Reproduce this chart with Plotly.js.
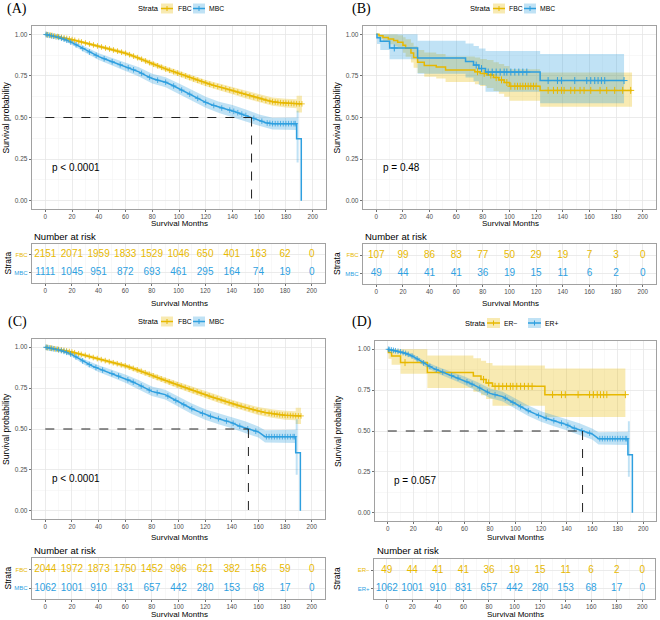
<!DOCTYPE html>
<html><head><meta charset="utf-8">
<script src="https://cdn.plot.ly/plotly-3.0.1.min.js"></script>
<style>html,body{margin:0;padding:0;background:#fff}#chart{width:660px;height:620px}</style>
</head><body><div id="chart"></div>
<script>
// ---------------- DATA ----------------
const YEL = '#E7B800', BLU = '#2E9FDF';
const riskTimes = [0, 20, 40, 60, 80, 100, 120, 140, 160, 180, 200];
const pvals = ['p < 0.0001', 'p = 0.48', 'p < 0.0001', 'p = 0.057'];
const strataAB = ['FBC', 'MBC'];
const strataD = ['ER\u2212', 'ER+'];

// Panel A
const aFbcT = [0,5,10,15,20,25,30,35,40,45,50,55,60,65,70,75,80,85,90,95,100,105,110,115,120,125,130,135,140,145,150,155,160,165,170,175,180,185,190,192];
const aFbcS = [1.000,0.993,0.985,0.977,0.968,0.958,0.948,0.938,0.928,0.918,0.908,0.897,0.886,0.872,0.857,0.840,0.823,0.808,0.792,0.778,0.764,0.750,0.735,0.721,0.707,0.695,0.684,0.673,0.662,0.650,0.638,0.626,0.615,0.603,0.595,0.590,0.586,0.584,0.582,0.582];
const aFbcBandT = [0,10,20,30,40,50,60,70,80,90,100,110,120,130,140,150,160,170,180,188,188,192];
const aFbcLo = [1.000,0.980,0.961,0.939,0.918,0.897,0.874,0.844,0.808,0.776,0.747,0.717,0.688,0.664,0.640,0.614,0.590,0.570,0.560,0.556,0.530,0.530];
const aFbcHi = [1.000,0.990,0.975,0.957,0.938,0.919,0.898,0.870,0.838,0.808,0.781,0.753,0.726,0.704,0.684,0.662,0.640,0.620,0.612,0.610,0.630,0.630];
const aFbcCens = [1,2,4,5,7,9,10,12,14,16,18,20,22,25,27,30,33,36,39,42,45,48,51,54,57,60,63,66,69,72,75,78,81,84,87,90,93,96,99,102,105,108,111,114,117,120,123,126,129,132,135,138,141,144,147,150,153,156,159,162,165,168,170,172,174,176,178,180,182,184,186,188,190,192];
const aMbcT = [0,5,10,15,20,25,30,35,40,45,50,55,60,65,70,75,80,85,90,95,100,105,110,115,120,125,130,135,140,145,150,155,160,165,170,188,188,191.5,191.5];
const aMbcS = [1.000,0.990,0.982,0.968,0.950,0.928,0.906,0.885,0.866,0.850,0.835,0.820,0.805,0.790,0.774,0.753,0.734,0.722,0.712,0.694,0.673,0.652,0.632,0.611,0.591,0.575,0.561,0.551,0.540,0.526,0.512,0.498,0.484,0.468,0.463,0.463,0.372,0.372,0.000];
const aMbcBandT = [0,10,20,30,40,50,60,70,80,90,100,110,120,130,140,150,160,170,188,188,189.5];
const aMbcLo = [1.000,0.974,0.937,0.889,0.846,0.813,0.780,0.746,0.705,0.682,0.641,0.600,0.558,0.527,0.505,0.476,0.450,0.428,0.425,0.230,0.230];
const aMbcHi = [1.000,0.990,0.963,0.923,0.886,0.857,0.830,0.802,0.763,0.742,0.705,0.664,0.624,0.595,0.575,0.548,0.518,0.498,0.500,0.540,0.540];
const aMbcCens = [0.5,1.5,3,4.5,6,8,10,12,14,16,19,23,28,33,38,44,50,56,62,66,72,78,84,90,96,102,108,114,120,126,132,138,141,144,147,150,156,162,166,168,170,172,174,176,178,180,182,184,186,187];
const aRiskFbc = [2151,2071,1959,1833,1529,1046,650,401,163,62,0];
const aRiskMbc = [1111,1045,951,872,693,461,295,164,74,19,0];

// Panel B (step curves)
const bFbcT = [0,2,5,9,13,16,20,22,26,28,31,36,45,52,74,78,83,88,92,96,100,123,192];
const bFbcS = [1.000,0.991,0.981,0.972,0.963,0.953,0.934,0.916,0.888,0.860,0.832,0.813,0.804,0.785,0.775,0.765,0.755,0.740,0.726,0.710,0.688,0.663,0.663];
const bFbcLo = [1.000,0.973,0.955,0.941,0.928,0.914,0.889,0.865,0.831,0.799,0.767,0.745,0.735,0.713,0.700,0.689,0.677,0.660,0.643,0.625,0.600,0.565,0.565];
const bFbcHi = [1.000,1.000,1.000,1.000,0.999,0.994,0.982,0.970,0.950,0.928,0.905,0.890,0.882,0.867,0.860,0.852,0.845,0.832,0.822,0.810,0.790,0.770,0.770];
const bFbcCens = [76,81,86,90,94,98,101,104,106,108,110,112,114,116,118,120,129,133,136,139,141,146,149,153,156,161,168,173,179,185,191];
// MBC of panel B (same cohort as ER− in panel D)
const bMbcT = [0,0.5,3,10,31,67,73,77,82,123,186];
const bMbcS = [1.000,0.980,0.959,0.918,0.857,0.836,0.815,0.794,0.773,0.722,0.722];
const bMbcLo = [1.000,0.942,0.905,0.850,0.763,0.740,0.718,0.695,0.655,0.585,0.585];
const bMbcHi = [1.000,1.000,1.000,1.000,0.962,0.945,0.930,0.915,0.900,0.882,0.882];
const bMbcCens = [13.5,75,79,84,87,90,93,96,98,101,104,107,110,113,129,136,139,149,158,161,164,166.5,169,171.5,186];
const bRiskFbc = [107,99,86,83,77,50,29,19,7,3,0];
const bRiskMbc = [49,44,41,41,36,19,15,11,6,2,0];

// Panel C
const cFbcT = [0,5,10,15,20,25,30,35,40,45,50,55,60,65,70,75,80,85,90,95,100,105,110,115,120,125,130,135,140,145,150,155,160,165,170,175,180,185,190,192];
const cFbcS = [1.000,0.993,0.986,0.979,0.970,0.960,0.950,0.939,0.928,0.918,0.907,0.897,0.886,0.873,0.859,0.844,0.828,0.812,0.797,0.782,0.767,0.753,0.738,0.724,0.710,0.696,0.683,0.669,0.656,0.644,0.632,0.620,0.610,0.601,0.594,0.588,0.584,0.582,0.580,0.580];
const cFbcBandT = [0,10,20,30,40,50,60,70,80,90,100,110,120,130,140,150,160,170,180,188,188,192];
const cFbcLo = [1.000,0.981,0.962,0.940,0.918,0.896,0.873,0.845,0.812,0.780,0.748,0.718,0.689,0.661,0.634,0.608,0.586,0.568,0.557,0.553,0.530,0.530];
const cFbcHi = [1.000,0.991,0.978,0.960,0.938,0.918,0.899,0.873,0.844,0.814,0.786,0.758,0.731,0.705,0.678,0.656,0.634,0.620,0.611,0.609,0.630,0.630];
const cFbcCens = [1,2,4,5,7,9,10,12,14,16,18,20,22,25,27,30,33,36,39,42,45,48,51,54,57,60,63,66,69,72,75,78,81,84,87,90,93,96,99,102,105,108,111,114,117,120,123,126,129,132,135,138,141,144,147,150,153,156,159,162,165,168,170,172,174,176,178,180,182,184,186,188,190,192];
// MBC of panel C (same cohort as ER+ in panel D)
const cMbcT = [0,5,10,15,20,25,30,35,40,45,50,55,60,65,70,75,80,85,90,95,100,105,110,115,120,125,130,135,140,145,150,155,160,165,188,188,191.5,191.5];
const cMbcS = [1.000,0.992,0.984,0.972,0.955,0.931,0.906,0.886,0.869,0.854,0.839,0.824,0.808,0.790,0.771,0.750,0.730,0.720,0.710,0.688,0.665,0.644,0.624,0.606,0.588,0.575,0.563,0.551,0.539,0.520,0.506,0.494,0.482,0.453,0.453,0.355,0.355,0.000];
const cMbcBandT = [0,10,20,30,40,50,60,70,80,90,100,110,120,130,140,150,160,165,188,188,189.5];
const cMbcLo = [1.000,0.976,0.941,0.889,0.849,0.816,0.783,0.743,0.701,0.680,0.634,0.592,0.556,0.529,0.505,0.476,0.448,0.418,0.415,0.220,0.220];
const cMbcHi = [1.000,0.992,0.969,0.923,0.889,0.862,0.833,0.799,0.759,0.740,0.696,0.656,0.620,0.597,0.573,0.548,0.516,0.492,0.495,0.560,0.560];
const cMbcCens = [0.5,1.5,3,4.5,6,8,10,12,14,16,19,23,28,33,38,43,50,55,62,66,72,78,84,92,98,104,110,118,124,130,136,141,146,152,158,166,168,170,172,174,176,178,180,182,184,186,187];
const cRiskFbc = [2044,1972,1873,1750,1452,996,621,382,156,59,0];
const cRiskMbc = [1062,1001,910,831,657,442,280,153,68,17,0];

// Panel D
const dRiskNeg = [49,44,41,41,36,19,15,11,6,2,0];
const dRiskPos = [1062,1001,910,831,657,442,280,153,68,17,0];

// ---------------- HELPERS ----------------
const FONT = '"Liberation Sans", Arial, sans-serif';
const SERIF = '"Liberation Serif", "Times New Roman", serif';
const W = 660, H = 620;
const px = v => v / W;
const py = v => 1 - v / H;
function rgba(hex, a) {
  const n = parseInt(hex.slice(1), 16);
  return `rgba(${(n >> 16) & 255},${(n >> 8) & 255},${n & 255},${a})`;
}
function stepExpand(t, s) {
  const x = [], y = [];
  for (let i = 0; i < t.length; i++) {
    x.push(t[i]); y.push(s[i]);
    if (i < t.length - 1) { x.push(t[i + 1]); y.push(s[i]); }
  }
  return {x, y};
}
function valueAt(t, s, x, step) {
  if (step) {
    let v = s[0];
    for (let i = 0; i < t.length; i++) { if (t[i] <= x) v = s[i]; else break; }
    return v;
  }
  for (let i = 0; i < t.length - 1; i++) {
    if (x >= t[i] && x <= t[i + 1]) {
      if (t[i + 1] === t[i]) return s[i];
      return s[i] + (s[i + 1] - s[i]) * (x - t[i]) / (t[i + 1] - t[i]);
    }
  }
  return s[s.length - 1];
}
function medianOf(t, s, step) {
  for (let i = 0; i < t.length - 1; i++) {
    if (s[i] > 0.5 && s[i + 1] <= 0.5) {
      if (step) return t[i + 1];
      return t[i] + (0.5 - s[i]) * (t[i + 1] - t[i]) / (s[i + 1] - s[i]);
    }
  }
  return null;
}

const panels = [
  { lab: '(A)', labPos: [17, 9], km: ['x', 'y'], rk: ['x2', 'y2'], kmDx: [32, 326], kmDy: [26, 209], rkDx: [32, 325], rkDy: [244, 283],
    pval: pvals[0], names: strataAB,
    leg: {sx: 136, y: 8.5, keys: [[161, 173], [193, 205]], labs: [176, 207]},
    tt: {kmY: [6, 117.5], kmX: [179, 223.5], nar: [32, 236.5], rkY: [7, 263.5], rkX: [179, 303]},
    groups: [
      {color: YEL, t: aFbcT, s: aFbcS, bt: aFbcBandT, lo: aFbcLo, hi: aFbcHi, cens: aFbcCens, step: false, risk: aRiskFbc},
      {color: BLU, t: aMbcT, s: aMbcS, bt: aMbcBandT, lo: aMbcLo, hi: aMbcHi, cens: aMbcCens, step: false, risk: aRiskMbc}]},
  { lab: '(B)', labPos: [361, 9], km: ['x3', 'y3'], rk: ['x4', 'y4'], kmDx: [363, 656], kmDy: [26, 209], rkDx: [363, 656], rkDy: [244, 284],
    pval: pvals[1], names: strataAB,
    leg: {sx: 468, y: 8.5, keys: [[493, 505], [524, 536]], labs: [507, 538]},
    tt: {kmY: [337, 117.5], kmX: [510, 223.5], nar: [363, 236.5], rkY: [337, 264], rkX: [510, 303]},
    groups: [
      {color: YEL, t: bFbcT, s: bFbcS, bt: bFbcT, lo: bFbcLo, hi: bFbcHi, cens: bFbcCens, step: true, risk: bRiskFbc},
      {color: BLU, t: bMbcT, s: bMbcS, bt: bMbcT, lo: bMbcLo, hi: bMbcHi, cens: bMbcCens, step: true, risk: bRiskMbc}]},
  { lab: '(C)', labPos: [17, 322], km: ['x5', 'y5'], rk: ['x6', 'y6'], kmDx: [32, 325], kmDy: [339, 519], rkDx: [32, 325], rkDy: [558, 599],
    pval: pvals[2], names: strataAB,
    leg: {sx: 136, y: 321.5, keys: [[161, 173], [193, 205]], labs: [176, 207]},
    tt: {kmY: [6, 429], kmX: [179, 537.5], nar: [32, 550.5], rkY: [7, 578.5], rkX: [179, 614]},
    groups: [
      {color: YEL, t: cFbcT, s: cFbcS, bt: cFbcBandT, lo: cFbcLo, hi: cFbcHi, cens: cFbcCens, step: false, risk: cRiskFbc},
      {color: BLU, t: cMbcT, s: cMbcS, bt: cMbcBandT, lo: cMbcLo, hi: cMbcHi, cens: cMbcCens, step: false, risk: cRiskMbc}]},
  { lab: '(D)', labPos: [362, 322], km: ['x7', 'y7'], rk: ['x8', 'y8'], kmDx: [375, 656], kmDy: [341, 521], rkDx: [374, 655], rkDy: [559, 599],
    pval: pvals[3], names: strataD,
    leg: {sx: 463, y: 323, keys: [[487, 500], [528, 541]], labs: [502, 543]},
    tt: {kmY: [338, 431], kmX: [515, 537.5], nar: [375, 550.5], rkY: [337, 579], rkX: [515, 614]},
    groups: [
      {color: YEL, t: bMbcT, s: bMbcS, bt: bMbcT, lo: bMbcLo, hi: bMbcHi, cens: bMbcCens, step: true, risk: dRiskNeg},
      {color: BLU, t: cMbcT, s: cMbcS, bt: cMbcBandT, lo: cMbcLo, hi: cMbcHi, cens: cMbcCens, step: false, risk: dRiskPos}]}
];

const traces = [], shapes = [], annotations = [];
const layout = {
  width: W, height: H, margin: {l: 0, r: 0, t: 0, b: 0},
  paper_bgcolor: '#fff', plot_bgcolor: '#fff', showlegend: false,
  font: {family: FONT, color: '#000'}
};
const GRID = '#e6e6e6', MINOR = '#f2f2f2', BORDER = '#8a8a8a';
function xAxis(dx, anchor) {
  return {domain: [px(dx[0]), px(dx[1])], anchor, range: [-10, 210], tickmode: 'linear', tick0: 0, dtick: 20,
    ticks: 'outside', ticklen: 2, tickwidth: 0.7, tickcolor: '#333', tickfont: {family: FONT, size: 6.3, color: '#4d4d4d'},
    showgrid: true, gridcolor: GRID, gridwidth: 0.8,
    minor: {dtick: 10, tick0: 0, showgrid: true, gridcolor: MINOR, gridwidth: 0.5},
    showline: true, mirror: true, linecolor: BORDER, linewidth: 0.8, zeroline: false, fixedrange: true};
}
function ann(text, x, y, o) {
  return Object.assign({text, xref: 'paper', yref: 'paper', x: px(x), y: py(y), showarrow: false,
    xanchor: 'center', yanchor: 'middle', font: {family: FONT, size: 8.5, color: '#000'}}, o || {});
}

panels.forEach(p => {
  const [xk, yk] = p.km, [xr, yr] = p.rk;
  const xkName = 'xaxis' + xk.slice(1), ykName = 'yaxis' + yk.slice(1);
  const xrName = 'xaxis' + xr.slice(1), yrName = 'yaxis' + yr.slice(1);
  layout[xkName] = xAxis(p.kmDx, yk);
  layout[ykName] = {domain: [py(p.kmDy[1]), py(p.kmDy[0])], anchor: xk, range: [-0.05, 1.05], tickmode: 'linear', tick0: 0, dtick: 0.25,
    tickformat: '.2f', ticks: 'outside', ticklen: 2.5, tickwidth: 0.7, tickcolor: '#333', tickfont: {family: FONT, size: 6.5, color: '#4d4d4d'},
    showgrid: true, gridcolor: GRID, gridwidth: 0.8, minor: {dtick: 0.125, tick0: 0, showgrid: true, gridcolor: MINOR, gridwidth: 0.5},
    showline: true, mirror: true, linecolor: BORDER, linewidth: 0.8, zeroline: false, fixedrange: true};
  layout[xrName] = xAxis(p.rkDx, yr);
  layout[yrName] = {domain: [py(p.rkDy[1]), py(p.rkDy[0])], anchor: xr, range: [0.42, 2.62], tickmode: 'array', tickvals: [2, 1],
    ticktext: p.names.map((n, i) => `<span style="color:${p.groups[i].color}">${n}</span>`),
    ticks: 'outside', ticklen: 2.5, tickwidth: 0.7, tickcolor: '#333', tickfont: {family: FONT, size: 6},
    showgrid: true, gridcolor: GRID, gridwidth: 0.8,
    showline: true, mirror: true, linecolor: BORDER, linewidth: 0.8, zeroline: false, fixedrange: true};

  // bands
  p.groups.forEach(g => {
    let lx, ly, hx, hy;
    if (g.step) {
      const L = stepExpand(g.bt, g.lo), U = stepExpand(g.bt, g.hi);
      lx = L.x; ly = L.y; hx = U.x; hy = U.y;
    } else { lx = g.bt; ly = g.lo; hx = g.bt; hy = g.hi; }
    traces.push({type: 'scatter', mode: 'lines', xaxis: xk, yaxis: yk, fill: 'toself', fillcolor: rgba(g.color, 0.3),
      line: {width: 0, color: 'rgba(0,0,0,0)'}, hoverinfo: 'skip',
      x: hx.concat(lx.slice().reverse()), y: hy.concat(ly.slice().reverse())});
  });
  // lines
  p.groups.forEach(g => {
    traces.push({type: 'scatter', mode: 'lines', xaxis: xk, yaxis: yk, x: g.t, y: g.s, hoverinfo: 'skip',
      line: {color: g.color, width: 1.5, shape: g.step ? 'hv' : 'linear'}});
  });
  // censor marks
  p.groups.forEach(g => {
    traces.push({type: 'scatter', mode: 'markers', xaxis: xk, yaxis: yk, x: g.cens, y: g.cens.map(c => valueAt(g.t, g.s, c, g.step)),
      hoverinfo: 'skip', marker: {symbol: 'cross-thin', size: g.step ? 5 : 4, color: g.color, line: {color: g.color, width: g.step ? 1 : 0.8}}});
  });
  // median lines
  p.groups.forEach(g => {
    const m = medianOf(g.t, g.s, g.step);
    if (m !== null) {
      const dash = {color: '#222', width: 1, dash: 'dash'};
      shapes.push({type: 'line', xref: xk, yref: yk, x0: 0, x1: m, y0: 0.5, y1: 0.5, line: dash});
      shapes.push({type: 'line', xref: xk, yref: yk, x0: m, x1: m, y0: 0.5, y1: 0, line: dash});
    }
  });
  // risk table
  p.groups.forEach((g, i) => {
    traces.push({type: 'scatter', mode: 'text', xaxis: xr, yaxis: yr, x: riskTimes, y: riskTimes.map(() => 2 - i),
      text: g.risk.map(String), textposition: 'middle center', cliponaxis: false, hoverinfo: 'skip',
      textfont: {family: FONT, size: 10, color: g.color}});
  });
  // p-value
  annotations.push({text: p.pval, xref: xk, yref: yk, x: 3.5, y: 0.2, xanchor: 'left', yanchor: 'middle', showarrow: false,
    font: {family: FONT, size: 10, color: '#000'}});
  // titles
  annotations.push(ann(p.lab, p.labPos[0], p.labPos[1], {font: {family: SERIF, size: 14, color: '#000'}}));
  annotations.push(ann('Survival probability', p.tt.kmY[0], p.tt.kmY[1], {textangle: -90}));
  annotations.push(ann('Survival Months', p.tt.kmX[0], p.tt.kmX[1], {font: {family: FONT, size: 8, color: '#000'}}));
  annotations.push(ann('Number at risk', p.tt.nar[0], p.tt.nar[1], {xanchor: 'left', font: {family: FONT, size: 9.5, color: '#000'}}));
  annotations.push(ann('Strata', p.tt.rkY[0], p.tt.rkY[1], {textangle: -90}));
  annotations.push(ann('Survival Months', p.tt.rkX[0], p.tt.rkX[1], {font: {family: FONT, size: 8, color: '#000'}}));
  // legend
  annotations.push(ann('Strata', p.leg.sx, p.leg.y, {xanchor: 'left', font: {family: FONT, size: 7.5, color: '#000'}}));
  p.groups.forEach((g, i) => {
    const [k0, k1] = p.leg.keys[i];
    const y0 = py(p.leg.y - 5), y1 = py(p.leg.y + 5), yc = py(p.leg.y), xc = px((k0 + k1) / 2);
    shapes.push({type: 'rect', xref: 'paper', yref: 'paper', x0: px(k0), x1: px(k1), y0, y1, fillcolor: rgba(g.color, 0.3), line: {width: 0}});
    shapes.push({type: 'line', xref: 'paper', yref: 'paper', x0: px(k0), x1: px(k1), y0: yc, y1: yc, line: {color: g.color, width: 1.5}});
    shapes.push({type: 'line', xref: 'paper', yref: 'paper', x0: xc, x1: xc, y0: py(p.leg.y - 2.5), y1: py(p.leg.y + 2.5), line: {color: g.color, width: 1}});
    annotations.push(ann(p.names[i], p.leg.labs[i], p.leg.y, {xanchor: 'left', font: {family: FONT, size: 6.8, color: '#000'}}));
  });
});
layout.shapes = shapes;
layout.annotations = annotations;
Plotly.newPlot('chart', traces, layout, {staticPlot: true, displayModeBar: false});
</script>
</body></html>
